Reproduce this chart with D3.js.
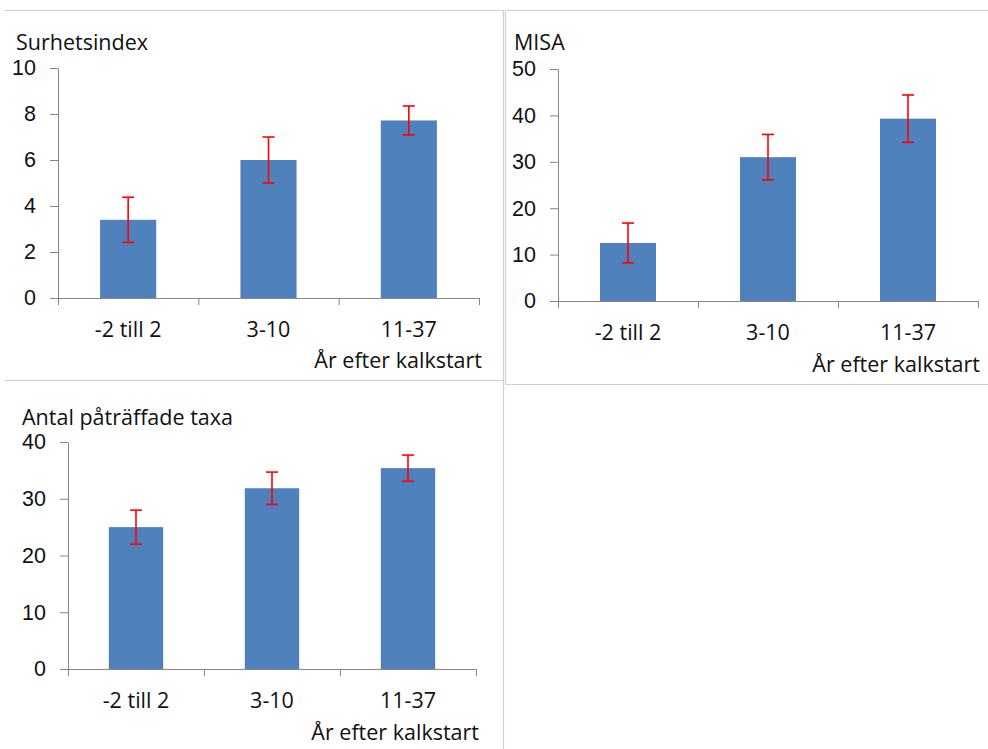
<!DOCTYPE html>
<html>
<head>
<meta charset="utf-8">
<script src="https://cdn.jsdelivr.net/npm/d3@7"></script>
<style>
  html, body { margin: 0; padding: 0; background: #fff; }
  svg { display: block; font-family: "Open Sans", Lato, sans-serif; }
  .tick text { fill: #111; }
</style>
</head>
<body>
<svg id="chart" width="988" height="749"></svg>
<script>
// ── Data ────────────────────────────────────────────────────────────────────
const categories = ['-2 till 2', '3-10', '11-37'];
const xTitle = 'År efter kalkstart';

const surhetMean = [3.4, 6.0, 7.72];
const surhetErr  = [0.98, 1.0, 0.63];

const misaMean = [12.5, 31.0, 39.3];
const misaErr  = [4.3, 4.9, 5.1];

const taxaMean = [25.0, 31.85, 35.4];
const taxaErr  = [3.0, 2.85, 2.3];

const yTicksSurhet = [0, 2, 4, 6, 8, 10];
const yTicksMisa   = [0, 10, 20, 30, 40, 50];
const yTicksTaxa   = [0, 10, 20, 30, 40];

// ── Styles ──────────────────────────────────────────────────────────────────
const BAR = '#4f81bd', ERR = '#ff0000', AXIS = '#868686', FRAME = '#d0d0d0';
const TEXT = '#111';
const FONT = 21.5;

// Panel layout (pixel placement only)
const panels = [
  { title: 'Surhetsindex', mean: surhetMean, err: surhetErr, ticks: yTicksSurhet,
    left: 58, right: 479, top: 68, bottom: 298, titleX: 16, titleY: 50, xtRight: 482, xtY: 368 },
  { title: 'MISA', mean: misaMean, err: misaErr, ticks: yTicksMisa,
    left: 558, right: 978, top: 69, bottom: 301, titleX: 514, titleY: 50, xtRight: 980, xtY: 372 },
  { title: 'Antal påträffade taxa', mean: taxaMean, err: taxaErr, ticks: yTicksTaxa,
    left: 68, right: 476, top: 442, bottom: 669, titleX: 22, titleY: 425, xtRight: 479, xtY: 740 },
];

const svg = d3.select('#chart');

// Ramar runt panelerna
const frames = [
  [4, 10, 503, 10], [503, 10, 503, 749], [4, 380, 503, 380],
  [505, 10, 988, 10], [505, 10, 505, 384], [505, 384, 988, 384],
];
svg.append('g').selectAll('line').data(frames).join('line')
  .attr('x1', d => d[0] + 0.5).attr('y1', d => d[1] + 0.5)
  .attr('x2', d => d[2] + 0.5).attr('y2', d => d[3] + 0.5)
  .attr('stroke', FRAME).attr('stroke-width', 1.2);

panels.forEach(p => {
  const g = svg.append('g');
  const yMax = d3.max(p.ticks);
  const y = d3.scaleLinear().domain([0, yMax]).range([p.bottom, p.top]);
  const x = d3.scaleBand().domain(categories).range([p.left, p.right])
    .paddingInner(0.6).paddingOuter(0.3);
  const xEdge = d3.scaleLinear().domain([0, categories.length]).range([p.left, p.right]);

  // bars
  g.selectAll('rect.bar').data(p.mean).join('rect').attr('class', 'bar')
    .attr('x', (d, i) => x(categories[i]))
    .attr('y', d => y(d))
    .attr('width', x.bandwidth())
    .attr('height', d => y(0) - y(d))
    .attr('fill', BAR);

  // y axis
  const ya = g.append('g').attr('transform', `translate(${p.left},0)`)
    .call(d3.axisLeft(y).tickValues(p.ticks).tickSize(8).tickSizeOuter(0).tickPadding(14));
  ya.selectAll('path, line').attr('stroke', AXIS);
  ya.selectAll('text').attr('font-size', FONT).attr('font-family', null);

  // x axis: line + ticks at category borders
  const xa = g.append('g').attr('transform', `translate(0,${p.bottom})`)
    .call(d3.axisBottom(xEdge).tickValues(d3.range(categories.length + 1))
      .tickSize(7).tickSizeOuter(0).tickFormat(''));
  xa.selectAll('path, line').attr('stroke', AXIS);

  // category labels
  g.selectAll('text.cat').data(categories).join('text').attr('class', 'cat')
    .attr('x', d => x(d) + x.bandwidth() / 2)
    .attr('y', p.bottom + 39)
    .attr('text-anchor', 'middle').attr('font-size', FONT).attr('fill', TEXT)
    .text(d => d);

  // error bars
  const eb = g.selectAll('g.err').data(p.mean).join('g').attr('class', 'err')
    .attr('transform', (d, i) => `translate(${x(categories[i]) + x.bandwidth() / 2},0)`)
    .attr('stroke', ERR).attr('stroke-width', 1.6);
  eb.append('line').attr('y1', (d, i) => y(d + p.err[i])).attr('y2', (d, i) => y(d - p.err[i]));
  eb.append('line').attr('x1', -6).attr('x2', 6)
    .attr('y1', (d, i) => y(d + p.err[i])).attr('y2', (d, i) => y(d + p.err[i]));
  eb.append('line').attr('x1', -6).attr('x2', 6)
    .attr('y1', (d, i) => y(d - p.err[i])).attr('y2', (d, i) => y(d - p.err[i]));

  // titles
  g.append('text').attr('x', p.titleX).attr('y', p.titleY)
    .attr('font-size', FONT).attr('fill', TEXT).text(p.title);
  g.append('text').attr('x', p.xtRight).attr('y', p.xtY).attr('text-anchor', 'end')
    .attr('font-size', FONT).attr('fill', TEXT).text(xTitle);
});
</script>
</body>
</html>
